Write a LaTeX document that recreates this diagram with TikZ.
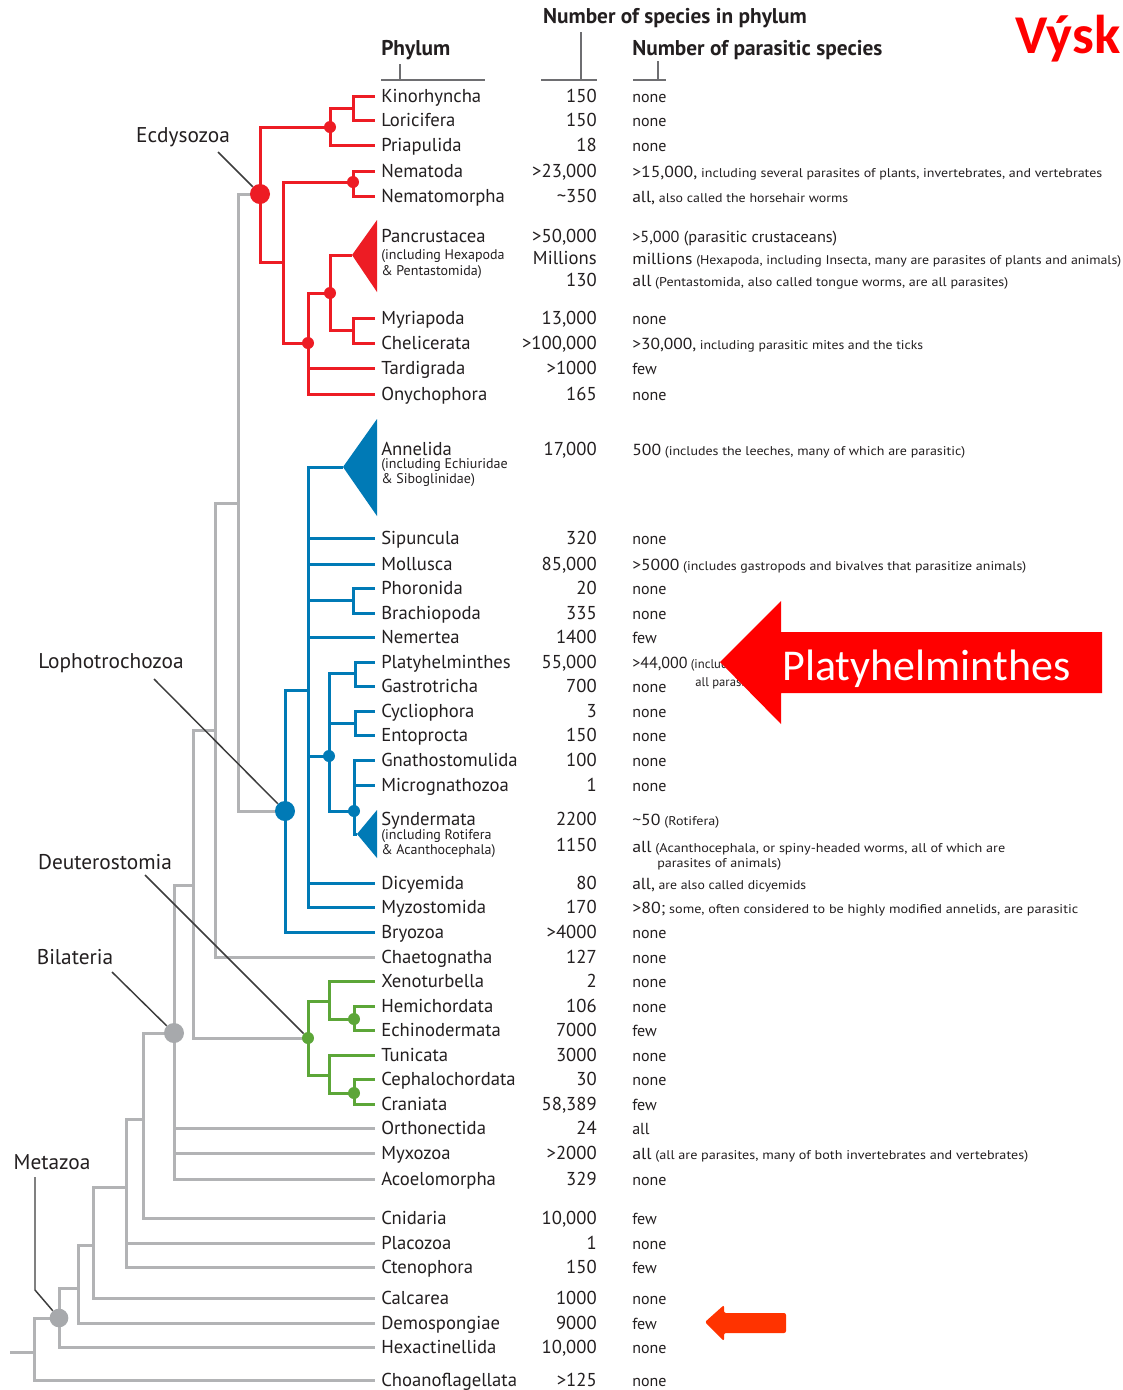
\documentclass[tikz,border=0pt]{standalone}
\usepackage{fontspec}
\usepackage{graphicx}
\setmainfont{PT Sans}
\newfontfamily\calibri{Carlito}

\definecolor{redc}{RGB}{237,28,36}
\definecolor{bluec}{RGB}{0,122,182}
\definecolor{greenc}{RGB}{92,166,56}
\definecolor{grayc}{RGB}{178,179,181}
\definecolor{graydot}{RGB}{167,169,172}
\definecolor{ink}{RGB}{35,31,32}
\definecolor{leadc}{RGB}{60,60,60}
\definecolor{barc}{RGB}{110,110,113}
\definecolor{platred}{RGB}{255,0,0}
\definecolor{orangec}{RGB}{255,51,0}

% small running text of the parasite column
\newcommand\sm{\fontsize{9.5}{11}\selectfont}
% squeeze a line horizontally to a width given in pixels of the layout grid
\newcommand\fitw[2]{\resizebox{\dimexpr #1pt*3/4\relax}{\height}{#2}}
% one row of the table: name, y, phylum, species count, parasitic species
\newcommand\taxon[5]{%
  \node[phy] (#1) at (375,#2) {#3};
  \node[cnt] (#1n) at (597,#2) {#4};
  \node[parcol] (#1p) at (632,#2) {#5};}

\begin{document}
\begin{tikzpicture}[x=0.75pt,y=-0.75pt,
  txt/.style={text=ink, inner sep=0pt, text height=10pt, text depth=1pt},
  phy/.style={txt, anchor=west, inner xsep=4.5pt, font=\fontsize{14}{16}\selectfont},
  cnt/.style={txt, anchor=east, font=\fontsize{14}{16}\selectfont},
  parcol/.style={txt, anchor=west, font=\fontsize{12}{14}\selectfont},
  subl/.style={text=ink, inner sep=0pt, inner xsep=4.5pt, anchor=west, text height=7pt, text depth=2pt, font=\fontsize{10.5}{12}\selectfont},
  hdr/.style={text=ink, inner sep=0pt, font=\bfseries\fontsize{16}{18}\selectfont},
  clade/.style={text=ink, inner sep=0pt, font=\fontsize{16}{18}\selectfont},
  leadline/.style={draw=leadc, line width=1.1pt},
  headbar/.style={draw=barc, line width=1.5pt},
  branch/.style={line width=2.25pt},
  smalldot/.style={circle, inner sep=0pt, minimum size=9pt},
  bigdot/.style={circle, inner sep=0pt, minimum size=15pt}]

\clip (0,0) rectangle (1123,1390);
\fill[white] (0,0) rectangle (1123,1390);

% ---------- column headers ----------
\node[hdr] (hnum) at (675,18) {Number of species in phylum};
\node[hdr, anchor=west] (hphy) at (381,50) {Phylum};
\node[hdr, anchor=west] (hpar) at (632,50) {Number of parasitic species};
\coordinate (tphy) at (400,80);
\coordinate (tnum) at (581,80);
\coordinate (tpar) at (658,80);
\draw[headbar] (381,80) -- (485,80);
\draw[headbar] (541,80) -- (597,80);
\draw[headbar] (633,80) -- (666,80);
\draw[headbar, shorten <=3pt] (hphy.south -| tphy) -- (tphy);
\draw[headbar, shorten <=3pt] (hnum.south -| tnum) -- (tnum);
\draw[headbar, shorten <=1pt] (hpar.south -| tpar) -- (tpar);

% ---------- table rows ----------
\taxon{kin}{96}{Kinorhyncha}{150}{none}
\taxon{lor}{120}{Loricifera}{150}{none}
\taxon{pri}{145}{Priapulida}{18}{none}
\taxon{nem}{171}{Nematoda}{>23,000}{\fitw{470}{>15,000,{\sm{} including several parasites of plants, invertebrates, and vertebrates}}}
\taxon{nmo}{196}{Nematomorpha}{\textasciitilde350}{\fitw{216}{all,{\sm{} also called the horsehair worms}}}
\taxon{pan}{236}{Pancrustacea}{>50,000}{\fitw{205}{>5,000 (parasitic crustaceans)}}
\node[subl] (pans1) at (375,256) {(including Hexapoda};
\node[subl] (pans2) at (375,272) {\& Pentastomida)};
\node[cnt] (hexn) at (597,258) {Millions};
\node[parcol] (hexp) at (632,258) {\fitw{489}{millions{\sm{} (Hexapoda, including Insecta, many are parasites of plants and animals)}}};
\node[cnt] (penn) at (597,280) {130};
\node[parcol] (penp) at (632,280) {\fitw{376}{all{\sm{} (Pentastomida, also called tongue worms, are all parasites)}}};
\taxon{myr}{318}{Myriapoda}{13,000}{none}
\taxon{che}{343}{Chelicerata}{>100,000}{\fitw{291}{>30,000,{\sm{} including parasitic mites and the ticks}}}
\taxon{tar}{368}{Tardigrada}{>1000}{few}
\taxon{ony}{394}{Onychophora}{165}{none}
\taxon{ann}{449}{Annelida}{17,000}{\fitw{333}{500{\sm{} (includes the leeches, many of which are parasitic)}}}
\node[subl] (anns1) at (375,465) {(including Echiuridae};
\node[subl] (anns2) at (375,480) {\& Siboglinidae)};
\taxon{sip}{538}{Sipuncula}{320}{none}
\taxon{mol}{564}{Mollusca}{85,000}{\fitw{394}{>5000{\sm{} (includes gastropods and bivalves that parasitize animals)}}}
\taxon{pho}{588}{Phoronida}{20}{none}
\taxon{bra}{613}{Brachiopoda}{335}{none}
\taxon{nmr}{637}{Nemertea}{1400}{few}
\taxon{pla}{662}{Platyhelminthes}{55,000}{>44,000{\sm{} (including}}
\node[parcol, font=\sm] (plap2) at (695,680) {all parasites)};
\taxon{gas}{686}{Gastrotricha}{700}{none}
\taxon{cyc}{711}{Cycliophora}{3}{none}
\taxon{ent}{735}{Entoprocta}{150}{none}
\taxon{gna}{760}{Gnathostomulida}{100}{none}
\taxon{mic}{785}{Micrognathozoa}{1}{none}
\taxon{syn}{819}{Syndermata}{2200}{\fitw{87}{\textasciitilde50{\sm{} (Rotifera)}}}
\node[subl] (syns1) at (375,836) {(including Rotifera};
\node[subl] (syns2) at (375,851) {\& Acanthocephala)};
\node[cnt] (acan) at (597,845) {1150};
\node[parcol] (acap) at (632,846) {\fitw{373}{all{\sm{} (Acanthocephala, or spiny-headed worms, all of which are}}};
\node[parcol] (acap2) at (657,861) {\fitw{124}{\sm parasites of animals)}};
\taxon{dic}{883}{Dicyemida}{80}{\fitw{174}{all,{\sm{} are also called dicyemids}}}
\taxon{myz}{907}{Myzostomida}{170}{\fitw{446}{>80;{\sm{} some, often considered to be highly modified annelids, are parasitic}}}
\taxon{bry}{932}{Bryozoa}{>4000}{none}
\taxon{cha}{957}{Chaetognatha}{127}{none}
\taxon{xen}{981}{Xenoturbella}{2}{none}
\taxon{hem}{1006}{Hemichordata}{106}{none}
\taxon{ech}{1030}{Echinodermata}{7000}{few}
\taxon{tun}{1055}{Tunicata}{3000}{none}
\taxon{cep}{1079}{Cephalochordata}{30}{none}
\taxon{cra}{1104}{Craniata}{58,389}{few}
\taxon{ort}{1128}{Orthonectida}{24}{all}
\taxon{myx}{1153}{Myxozoa}{>2000}{\fitw{396}{all{\sm{} (all are parasites, many of both invertebrates and vertebrates)}}}
\taxon{aco}{1179}{Acoelomorpha}{329}{none}
\taxon{cni}{1218}{Cnidaria}{10,000}{few}
\taxon{plc}{1243}{Placozoa}{1}{none}
\taxon{cte}{1267}{Ctenophora}{150}{few}
\taxon{cal}{1298}{Calcarea}{1000}{none}
\taxon{dem}{1323}{Demospongiae}{9000}{few}
\taxon{hex}{1347}{Hexactinellida}{10,000}{none}
\taxon{cho}{1380}{Choanoflagellata}{>125}{none}

% ---------- junction points ----------
\coordinate (stub) at (10,1352);
\coordinate (c0) at (34,1352);
\coordinate (met) at (59,1318);
\coordinate (c1) at (78,1288);
\coordinate (c2) at (93,1245);
\coordinate (c3) at (126,1187);
\coordinate (c4) at (143,1119);
\coordinate (bil) at (174,1033);
\coordinate (c5) at (193,885);
\coordinate (c6) at (215,730);
\coordinate (c7) at (238,503);
\coordinate (ecd) at (260,194);
\coordinate (lop) at (285,811);
\coordinate (deu) at (308,1038);

\coordinate (r1) at (353,108);
\coordinate (r2) at (330,127);
\coordinate (r3) at (353,182);
\coordinate (pantip) at (352,255);
\coordinate (r5) at (353,330);
\coordinate (r6) at (330,293);
\coordinate (r7) at (308,343);
\coordinate (r8) at (283,262);

\coordinate (b1) at (308,690);
\coordinate (anntip) at (343,467);
\coordinate (b2) at (353,600);
\coordinate (b3) at (329,756);
\coordinate (b4) at (355,673);
\coordinate (b5) at (355,723);
\coordinate (b6) at (354,811);
\coordinate (syntip) at (357,834);

\coordinate (g1) at (329,1001);
\coordinate (g2) at (354,1019);
\coordinate (g3) at (329,1075);
\coordinate (g4) at (354,1093);

% ---------- basal (grey) branches ----------
\begin{scope}[branch, draw=grayc]
\draw (stub) -- (c0);
\draw (c0) |- (met);  \draw (c0) |- (cho.west);
\draw (met) |- (c1);  \draw (met) |- (hex.west);
\draw (c1) |- (c2);   \draw (c1) |- (dem.west);
\draw (c2) |- (c3);   \draw (c2) |- (cal.west);
\draw (c3) |- (c4);   \draw (c3) |- (cte.west);  \draw (c3 |- plc.west) -- (plc.west);
\draw (c4) |- (bil);  \draw (c4) |- (cni.west);
\draw (bil) |- (c5);  \draw (bil) |- (aco.west);
\draw (bil |- ort.west) -- (ort.west);
\draw (bil |- myx.west) -- (myx.west);
\draw (c5) |- (c6);   \draw (c5) |- (deu);
\draw (c6) |- (c7);   \draw (c6) |- (cha.west);
\draw (c7) |- (ecd);  \draw (c7) |- (lop);
\end{scope}

% ---------- Ecdysozoa ----------
\begin{scope}[branch, draw=redc]
\draw (r1) |- (kin.west);  \draw (r1) |- (lor.west);
\draw (r2) |- (r1);        \draw (r2) |- (pri.west);
\draw (ecd) |- (r2);       \draw (ecd) |- (r8);
\draw (r8) |- (r3);        \draw (r8) |- (r7);
\draw (r3) |- (nem.west);  \draw (r3) |- (nmo.west);
\draw (r7) |- (r6);        \draw (r7) |- (ony.west);
\draw (r7 |- tar.west) -- (tar.west);
\draw (r6) |- (pantip);    \draw (r6) |- (r5);
\draw (r5) |- (myr.west);  \draw (r5) |- (che.west);
\end{scope}
\fill[redc] (pantip) -- (377,220) -- (377,292) -- cycle;

% ---------- Lophotrochozoa ----------
\begin{scope}[branch, draw=bluec]
\draw (lop) |- (b1);       \draw (lop) |- (bry.west);
\draw (b1) |- (anntip);    \draw (b1) |- (myz.west);
\draw (b1 |- sip.west) -- (sip.west);
\draw (b1 |- mol.west) -- (mol.west);
\draw (b1 |- b2) -- (b2);
\draw (b1 |- nmr.west) -- (nmr.west);
\draw (b1 |- b3) -- (b3);
\draw (b1 |- dic.west) -- (dic.west);
\draw (b2) |- (pho.west);  \draw (b2) |- (bra.west);
\draw (b3) |- (b4);        \draw (b3) |- (b6);
\draw (b3 |- b5) -- (b5);
\draw (b4) |- (pla.west);  \draw (b4) |- (gas.west);
\draw (b5) |- (cyc.west);  \draw (b5) |- (ent.west);
\draw (b6) |- (gna.west);  \draw (b6) |- (syntip);
\draw (b6 |- mic.west) -- (mic.west);
\end{scope}
\fill[bluec] (anntip) -- (377,419) -- (377,516) -- cycle;
\fill[bluec] (syntip) -- (377,810) -- (377,858) -- cycle;

% ---------- Deuterostomia ----------
\begin{scope}[branch, draw=greenc]
\draw (deu) |- (g1);       \draw (deu) |- (g3);
\draw (g1) |- (xen.west);  \draw (g1) |- (g2);
\draw (g2) |- (hem.west);  \draw (g2) |- (ech.west);
\draw (g3) |- (tun.west);  \draw (g3) |- (g4);
\draw (g4) |- (cep.west);  \draw (g4) |- (cra.west);
\end{scope}

% ---------- node dots ----------
\node[bigdot, fill=redc] (ecddot) at (ecd) {};
\node[smalldot, fill=redc] (r2dot) at (r2) {};
\node[smalldot, fill=redc] (r3dot) at (r3) {};
\node[smalldot, fill=redc] (r6dot) at (r6) {};
\node[smalldot, fill=redc] (r7dot) at (r7) {};
\node[bigdot, fill=bluec] (lopdot) at (lop) {};
\node[smalldot, fill=bluec] (b3dot) at (b3) {};
\node[smalldot, fill=bluec] (b6dot) at (b6) {};
\node[smalldot, fill=greenc] (deudot) at (deu) {};
\node[smalldot, fill=greenc] (g2dot) at (g2) {};
\node[smalldot, fill=greenc] (g4dot) at (g4) {};
\node[bigdot, fill=graydot] (bildot) at (bil) {};
\node[bigdot, fill=graydot, minimum size=14pt] (metdot) at (met) {};

% ---------- clade labels ----------
\node[clade] (ecdlab) at (183,137) {Ecdysozoa};
\node[clade] (loplab) at (111,663) {Lophotrochozoa};
\node[clade] (deulab) at (105,862) {Deuterostomia};
\node[clade] (billab) at (75,957) {Bilateria};
\node[clade] (metlab) at (52,1162) {Metazoa};
\coordinate (ecdl) at (218,152);
\coordinate (lopl) at (154,679);
\coordinate (deul) at (145,875);
\coordinate (bill) at (112,972);
\coordinate (metl) at (35,1177);
\coordinate (metk) at (35,1290);
\draw[leadline] (ecdl) -- (ecddot);
\draw[leadline] (lopl) -- (lopdot);
\draw[leadline] (deul) -- (deudot);
\draw[leadline] (bill) -- (bildot);
\draw[leadline] (metl) -- (metk) -- (metdot);

% ---------- highlight arrows ----------
\fill[platred] (720,662) -- (781,601) -- (781,632) -- (1102,632) -- (1102,693)
  -- (781,693) -- (781,724) -- cycle;
\node[text=white, inner sep=0pt, anchor=base west, font=\calibri\fontsize{33}{40}\selectfont]
  (platy) at (782,680) {Platyhelminthes};
\fill[orangec, rounded corners=1.5pt] (705,1322) -- (724,1305) -- (724,1313) -- (786,1313)
  -- (786,1333) -- (724,1333) -- (724,1341) -- cycle;

\node[text=platred, inner sep=0pt, anchor=base west, font=\calibri\bfseries\fontsize{41}{48}\selectfont]
  (vysk) at (1015,53) {Výsk};
\end{tikzpicture}
\end{document}
